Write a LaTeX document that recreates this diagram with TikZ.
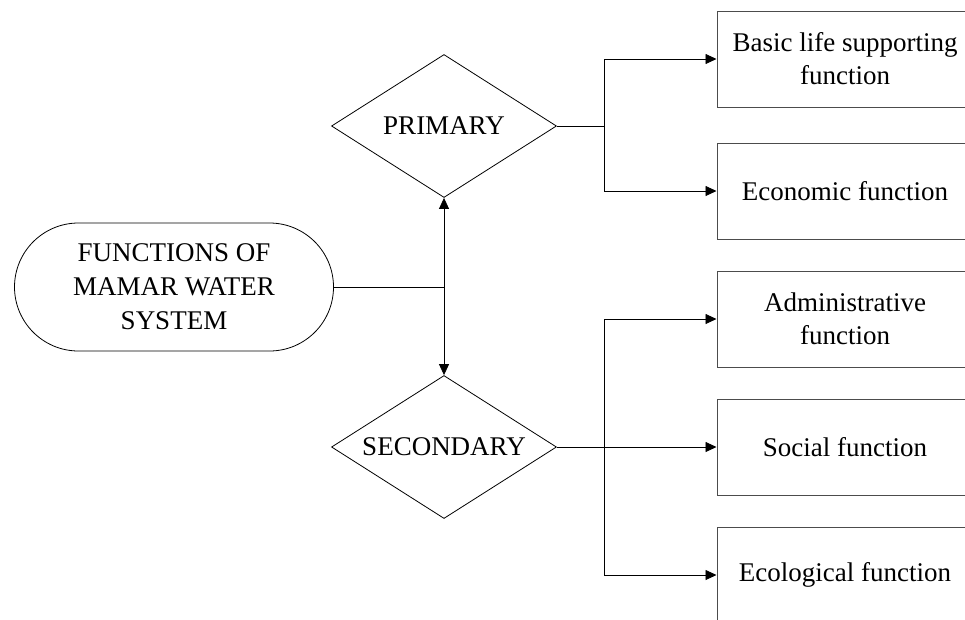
\documentclass[tikz,border=0pt]{standalone}
\usepackage{fontspec}
\setmainfont{Liberation Serif}
\usepackage{tikz}
\usetikzlibrary{shapes.geometric, shapes.misc, arrows.meta, positioning}
\tikzset{
  start/.style    = {rounded rectangle, draw=black, line width=0.8pt,
                     minimum width=319pt, minimum height=128pt, align=center,
                     inner sep=0pt, font=\fontsize{27}{34}\selectfont},
  decision/.style = {diamond, draw=black, line width=0.8pt, aspect=1.58,
                     minimum width=225pt, minimum height=143pt, inner sep=0pt,
                     font=\fontsize{27}{33}\selectfont},
  func/.style     = {rectangle, draw=black!70, line width=1pt,
                     minimum width=256pt, minimum height=96pt, align=center,
                     inner sep=0pt, font=\fontsize{27}{33}\selectfont},
  link/.style     = {line width=0.8pt, black},
  arrow/.style    = {-{Triangle[length=11pt, width=10pt]}, line width=0.8pt, black},
}
\begin{document}
\begin{tikzpicture}[x=1pt, y=-1pt]

  \clip (0,0) rectangle (965,619);

  % Root
  \node[start] (root) at (174,287) {FUNCTIONS OF\\MAMAR WATER\\SYSTEM};

  % Categories
  \node[decision] (prim) at (444,126) {PRIMARY};
  \node[decision] (sec)  at (444,447) {SECONDARY};

  % Functions
  \node[func] (basic) at (845,59)  {Basic life supporting\\function};
  \node[func] (econ)  at (845,191) {Economic function};
  \node[func] (admin) at (845,319) {Administrative\\function};
  \node[func] (soc)   at (845,447) {Social function};
  \node[func] (eco)   at (845,575) {Ecological function};

  % Junctions
  \coordinate (j0) at (444,287);
  \coordinate (jp) at (604,126);
  \coordinate (js) at (604,447);

  % Root to categories
  \draw[link]  (root.east) -- (j0);
  \draw[arrow] (j0) -- (prim.south);
  \draw[arrow] (j0) -- (sec.north);

  % Primary branch
  \draw[link]  (prim.east) -- (jp);
  \draw[arrow] (jp) |- (basic.west);
  \draw[arrow] (jp) |- (econ.west);

  % Secondary branch
  \draw[link]  (sec.east) -- (js);
  \draw[arrow] (js) |- (admin.west);
  \draw[arrow] (js) -- (soc.west);
  \draw[arrow] (js) |- (eco.west);

\end{tikzpicture}
\end{document}
